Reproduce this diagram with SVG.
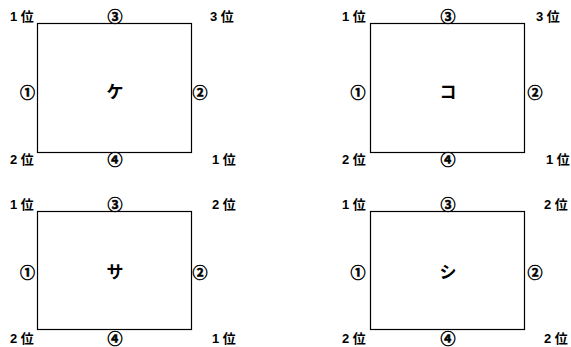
<svg xmlns="http://www.w3.org/2000/svg" width="571" height="347" viewBox="0 0 571 347">
<style>
.box{fill:#fff;stroke:#000;stroke-width:1.2}
.t{font-family:"Liberation Sans","Noto Sans CJK JP",sans-serif;font-weight:bold;font-size:13px;fill:#000}
.c{font-family:"Noto Sans CJK JP",sans-serif;font-weight:bold;font-size:15px;fill:#000;stroke:#000;stroke-width:0.5;text-anchor:middle}
.k{font-family:"Noto Sans CJK JP",sans-serif;font-weight:bold;font-size:17px;fill:#000;text-anchor:middle}
</style>
<rect width="571" height="347" fill="#fff"/>
<g id="node-ke">
<rect class="box" x="37.5" y="23.5" width="154" height="129"/>
<text class="k" x="115" y="98">ケ</text>
<text class="t" x="10" y="21">1 位</text>
<text class="t" x="210" y="21">3 位</text>
<text class="t" x="10" y="164">2 位</text>
<text class="t" x="212" y="164">1 位</text>
<text class="c" x="115" y="22">③</text>
<text class="c" x="27.5" y="98">①</text>
<text class="c" x="200" y="98">②</text>
<text class="c" x="115" y="165">④</text>
</g>
<g id="node-ko">
<rect class="box" x="370.5" y="23.5" width="154" height="129"/>
<text class="k" x="448" y="98">コ</text>
<text class="t" x="342" y="21">1 位</text>
<text class="t" x="536" y="21">3 位</text>
<text class="t" x="342" y="164">2 位</text>
<text class="t" x="546" y="164">1 位</text>
<text class="c" x="448" y="22">③</text>
<text class="c" x="358" y="98">①</text>
<text class="c" x="535" y="98">②</text>
<text class="c" x="448" y="165">④</text>
</g>
<g id="node-sa">
<rect class="box" x="37.5" y="211.5" width="154" height="118"/>
<text class="k" x="115" y="278">サ</text>
<text class="t" x="10" y="209">1 位</text>
<text class="t" x="212" y="209">2 位</text>
<text class="t" x="10" y="343">2 位</text>
<text class="t" x="212" y="343">1 位</text>
<text class="c" x="115" y="210">③</text>
<text class="c" x="27.5" y="278">①</text>
<text class="c" x="200" y="278">②</text>
<text class="c" x="115" y="344">④</text>
</g>
<g id="node-shi">
<rect class="box" x="370.5" y="211.5" width="154" height="118"/>
<text class="k" x="448" y="278">シ</text>
<text class="t" x="342" y="209">1 位</text>
<text class="t" x="544" y="209">2 位</text>
<text class="t" x="342" y="343">2 位</text>
<text class="t" x="544" y="343">2 位</text>
<text class="c" x="448" y="210">③</text>
<text class="c" x="358" y="278">①</text>
<text class="c" x="535" y="278">②</text>
<text class="c" x="448" y="344">④</text>
</g>
<g id="connectors"/>
</svg>
